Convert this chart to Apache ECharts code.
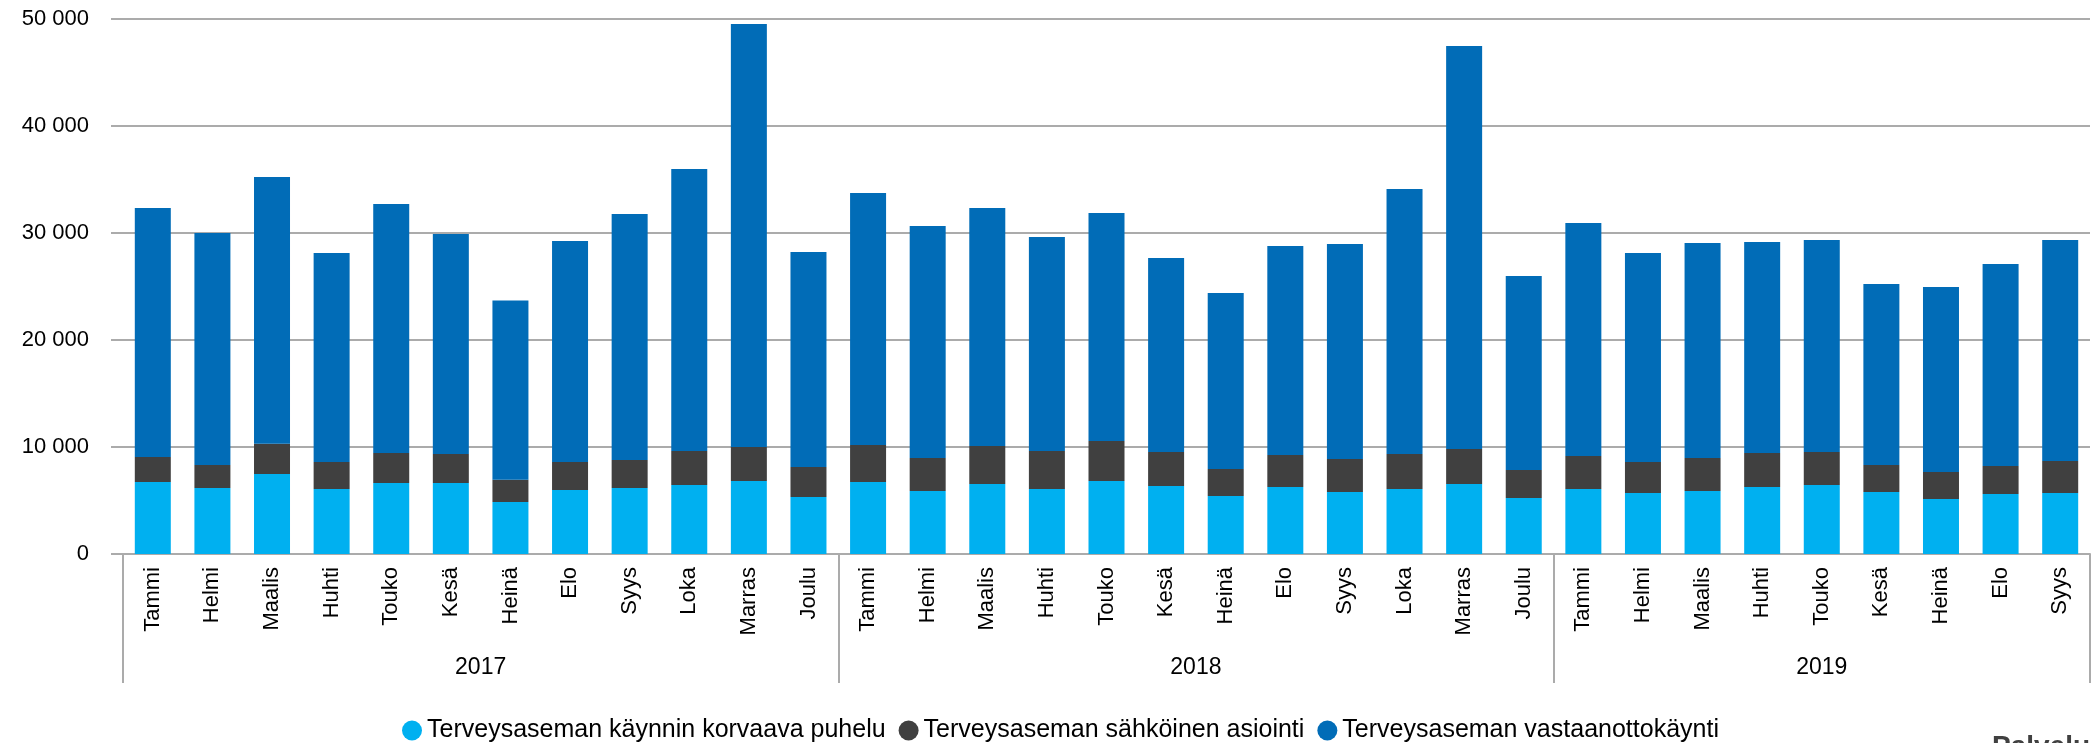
<!DOCTYPE html>
<html>
<head>
<meta charset="utf-8">
<script src="https://cdn.jsdelivr.net/npm/echarts@6/dist/echarts.min.js"></script>
<style>
html,body{margin:0;padding:0;background:#fff;}
#c{width:2093px;height:743px;}
</style>
</head>
<body>
<div id="c"></div>
<script>
const months = ['Tammi','Helmi','Maalis','Huhti','Touko','Kesä','Heinä','Elo','Syys','Loka','Marras','Joulu'];
const years = ['2017','2018','2019'];
const monthsPerYear = [12, 12, 9];
const seriesNames = ['Terveysaseman käynnin korvaava puhelu','Terveysaseman sähköinen asiointi','Terveysaseman vastaanottokäynti'];

const puhelu = [
  6730,6170,7480,6070,6640,6640,4860,5980,6170,6450,6820,5330,
  6730,5890,6540,6070,6820,6360,5420,6260,5790,6070,6540,5230,
  6070,5700,5890,6260,6450,5790,5140,5610,5700
];
const sahkoinen = [
  2340,2150,2830,2530,2800,2710,2090,2620,2610,3180,3180,2800,
  3460,3080,3550,3560,3740,3170,2520,2990,3090,3280,3270,2620,
  3090,2900,3080,3180,3080,2530,2520,2610,2990
];
const vastaanotto = [
  23270,21680,24920,19530,23270,20550,16750,20650,23000,26350,39530,20090,
  23550,21680,22250,20000,21310,18130,16450,19540,20090,24760,37670,18130,
  21770,19530,20100,19720,19820,16910,17290,18880,20660
];

const yTicks = {min: 0, max: 50000, interval: 10000};

// build month categories
const categories = [];
monthsPerYear.forEach(n => { for (let i = 0; i < n; i++) categories.push(months[i]); });
const nCat = categories.length;

// half-month positioned axis for year labels and group separators
const halfData = [];
for (let j = 0; j <= nCat * 2; j++) halfData.push('');
const boundaries = [0];
let acc = 0;
monthsPerYear.forEach((n, k) => {
  const start = acc; acc += n;
  boundaries.push(acc * 2);
  halfData[start + acc] = years[k];
});
const boundarySet = new Set(boundaries);

const gray = '#ABABAB';
const font = "'Liberation Sans', Arial, sans-serif";
const colors = ['#00B0F0', '#404040', '#016CB7'];

const chart = echarts.init(document.getElementById('c'));
chart.setOption({
  animation: false,
  color: colors,
  textStyle: {fontFamily: font},
  grid: {left: 123, top: 19, width: 1973, height: 535, containLabel: false},
  legend: {
    left: 397, top: 713,
    icon: 'circle', itemWidth: 20, itemHeight: 20, itemGap: 13,
    textStyle: {fontSize: 25, color: '#000', fontFamily: font},
    data: seriesNames
  },
  xAxis: [
    {
      type: 'category', position: 'bottom', data: categories,
      axisLine: {show: true, lineStyle: {color: gray, width: 2}},
      axisTick: {show: false},
      axisLabel: {interval: 0, rotate: 90, fontSize: 22, color: '#000', margin: 13, fontFamily: font}
    },
    {
      type: 'category', position: 'bottom', boundaryGap: false, data: halfData,
      axisLine: {show: false},
      axisTick: {show: true, length: 129, interval: (i) => boundarySet.has(i), lineStyle: {color: gray, width: 2}},
      axisLabel: {interval: 0, fontSize: 23, color: '#000', margin: 102, fontFamily: font},
      splitLine: {show: false}
    }
  ],
  yAxis: {
    type: 'value', min: yTicks.min, max: yTicks.max, interval: yTicks.interval,
    axisLine: {show: false},
    axisTick: {show: true, length: 12, lineStyle: {color: gray, width: 2}},
    splitLine: {show: true, lineStyle: {color: gray, width: 2}},
    axisLabel: {
      fontSize: 22, color: '#000', margin: 34, fontFamily: font,
      formatter: v => String(v).replace(/\B(?=(\d{3})+(?!\d))/g, ' ')
    }
  },
  graphic: [{
    type: 'text', left: 1992, top: 733,
    style: {text: 'Palvelu', font: "bold 28px 'Liberation Sans', Arial, sans-serif", fill: '#404040'}
  }],
  series: [
    {name: seriesNames[0], type: 'bar', stack: 'total', barWidth: 36, data: puhelu},
    {name: seriesNames[1], type: 'bar', stack: 'total', barWidth: 36, data: sahkoinen},
    {name: seriesNames[2], type: 'bar', stack: 'total', barWidth: 36, data: vastaanotto}
  ]
});
</script>
</body>
</html>
